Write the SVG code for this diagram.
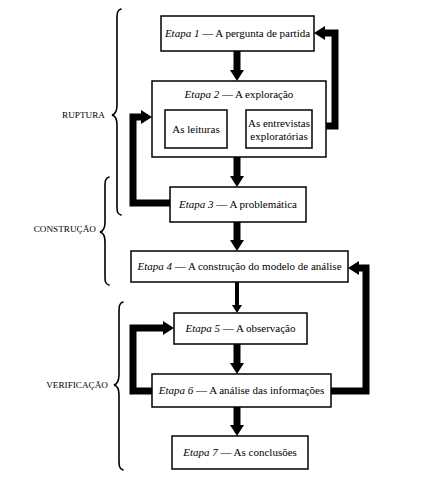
<svg xmlns="http://www.w3.org/2000/svg" width="447" height="492" viewBox="0 0 447 492">
<defs>
<style>
.box{fill:#fff;stroke:#000;stroke-width:1.5}
.t{font-family:"Liberation Serif","Times New Roman",serif;font-size:11px;fill:#000;text-anchor:middle}
.i{font-style:italic}
.lab{font-family:"Liberation Serif","Times New Roman",serif;font-size:9.2px;fill:#000;text-anchor:end}
.thick{fill:none;stroke:#000;stroke-width:7;stroke-linejoin:miter}
.mid{fill:none;stroke:#000;stroke-width:4}
.thin{fill:none;stroke:#000;stroke-width:1.2}
.brace{fill:none;stroke:#000;stroke-width:1.6;stroke-linecap:round}
</style>
<marker id="big" markerUnits="userSpaceOnUse" markerWidth="11" markerHeight="14" refX="0" refY="7" orient="auto"><path d="M0,0 L11,7 L0,14 z" fill="#000"/></marker>
<marker id="med" markerUnits="userSpaceOnUse" markerWidth="8" markerHeight="10" refX="0" refY="5" orient="auto"><path d="M0,0 L8,5 L0,10 z" fill="#000"/></marker>
<marker id="small" markerUnits="userSpaceOnUse" markerWidth="7" markerHeight="6" refX="0" refY="3" orient="auto"><path d="M0,0 L7,3 L0,6 z" fill="#000"/></marker>
</defs>
<rect width="447" height="492" fill="#fff"/>

<g id="braces">
<path class="brace" d="M121,9 C117,10 117,14 117,20 L117,105 C117,111 116,114 112,115 C116,116 117,119 117,125 L117,205 C117,211 117,214 121,215"/>
<text class="lab" x="105" y="118">RUPTURA</text>
<path class="brace" d="M109,177 C105,178 105,182 105,188 L105,222 C105,228 104,231 100,232 C104,233 105,236 105,242 L105,275 C105,281 105,284 109,285"/>
<text class="lab" x="96" y="232">CONSTRUÇÃO</text>
<path class="brace" d="M123,302 C119,303 119,307 119,313 L119,374 C119,380 118,384 114,385 C118,386 119,389 119,395 L119,459 C119,465 119,469 123,470"/>
<text class="lab" x="108" y="388">VERIFICAÇÃO</text>
</g>

<g id="connectors">
<path class="thick" d="M237,51 V70" marker-end="url(#big)"/>
<path class="thick" d="M237,157 V176" marker-end="url(#big)"/>
<path class="thick" d="M237,222 V240" marker-end="url(#big)"/>
<path class="mid" d="M237,282 V305" marker-end="url(#med)"/>
<path class="thick" d="M237,344 V363" marker-end="url(#big)"/>
<path class="thick" d="M237,407 V425" marker-end="url(#big)"/>
<path class="thick" d="M326,126 H335 V33 H325" marker-end="url(#big)"/>
<path class="thick" d="M170,203 H133 V117 H141" marker-end="url(#big)"/>
<path class="thick" d="M331,391 H366 V268 H359" marker-end="url(#big)"/>
<path class="thick" d="M152,391 H133 V328 H163" marker-end="url(#big)"/>
<path class="thin" d="M227,124 H239" marker-end="url(#small)"/>
<path class="thin" d="M246,136 H234" marker-end="url(#small)"/>
</g>

<g id="etapa1">
<rect class="box" x="161" y="16" width="153" height="35"/>
<text class="t" x="237.5" y="37"><tspan class="i">Etapa 1</tspan> — A pergunta de partida</text>
</g>
<g id="etapa2">
<rect class="box" x="152" y="81" width="174" height="76"/>
<text class="t" x="239" y="98"><tspan class="i">Etapa 2</tspan> — A exploração</text>
</g>
<g id="leituras">
<rect class="box" x="165" y="110" width="62" height="38"/>
<text class="t" x="196" y="133">As leituras</text>
</g>
<g id="entrevistas">
<rect class="box" x="246" y="110" width="66" height="38"/>
<text class="t" x="279" y="127">As entrevistas</text>
<text class="t" x="279" y="140">exploratórias</text>
</g>
<g id="etapa3">
<rect class="box" x="170" y="187" width="136" height="35"/>
<text class="t" x="238" y="208"><tspan class="i">Etapa 3</tspan> — A problemática</text>
</g>
<g id="etapa4">
<rect class="box" x="131" y="251" width="217" height="31"/>
<text class="t" x="239.5" y="270"><tspan class="i">Etapa 4</tspan> — A construção do modelo de análise</text>
</g>
<g id="etapa5">
<rect class="box" x="174" y="313" width="133" height="31"/>
<text class="t" x="240.5" y="332"><tspan class="i">Etapa 5</tspan> — A observação</text>
</g>
<g id="etapa6">
<rect class="box" x="152" y="374" width="179" height="33"/>
<text class="t" x="241.5" y="394"><tspan class="i">Etapa 6</tspan> — A análise das informações</text>
</g>
<g id="etapa7">
<rect class="box" x="172" y="436" width="136" height="33"/>
<text class="t" x="240" y="456"><tspan class="i">Etapa 7</tspan> — As conclusões</text>
</g>
</svg>
